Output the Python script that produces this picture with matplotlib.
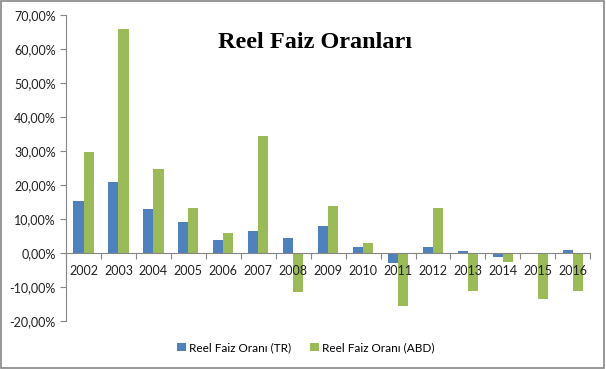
import numpy as np
import matplotlib
matplotlib.use("Agg")
import matplotlib.pyplot as plt
from matplotlib.patches import Rectangle
from matplotlib.ticker import FuncFormatter

# data (percent)
years = ["2002", "2003", "2004", "2005", "2006", "2007", "2008", "2009",
         "2010", "2011", "2012", "2013", "2014", "2015", "2016"]
tr = [15.2, 20.9, 13.0, 9.0, 3.7, 6.6, 4.4, 8.1, 1.9, -2.8, 1.9, 0.5, -1.3, -0.4, 0.8]
abd = [29.8, 65.9, 24.8, 13.4, 6.0, 34.5, -11.6, 13.7, 3.1, -15.7, 13.4, -11.3, -2.5, -13.6, -11.3]

blue = "#4F81BD"
green = "#9BBB59"
grey = "#868686"
font = ["Lato", "DejaVu Sans"]

fig = plt.figure(figsize=(6.06, 3.69), dpi=100)
ax = fig.add_axes([0.109, 0.130, 0.865, 0.829])

x = np.arange(len(years))
w = 0.29
ax.bar(x - w / 2, tr, w, color=blue, label="Reel Faiz Oranı (TR)")
ax.bar(x + w / 2, abd, w, color=green, label="Reel Faiz Oranı (ABD)")

ax.set_xlim(-0.5, len(years) - 0.5)
ax.set_ylim(-20, 70)
ax.set_yticks(np.arange(-20, 71, 10))
ax.yaxis.set_major_formatter(FuncFormatter(lambda v, p: f"{v:.2f}%".replace(".", ",")))

for s in ["top", "right"]:
    ax.spines[s].set_visible(False)
ax.spines["bottom"].set_position(("data", 0))
ax.spines["bottom"].set_color(grey)
ax.spines["left"].set_color(grey)

# category boundary ticks on the zero line
ax.set_xticks(np.arange(-0.5, len(years), 1))
ax.set_xticklabels([])
ax.tick_params(axis="x", length=4, color=grey, direction="out")
for i, yr in enumerate(years):
    ax.text(i, -3.4, yr, ha="center", va="top", fontsize=9, family=font, color="#222222")

ax.tick_params(axis="y", length=4, color=grey, labelsize=9, labelcolor="#222222")
for lab in ax.get_yticklabels():
    lab.set_family(font)

fig.text(0.52, 0.885, "Reel Faiz Oranları", ha="center", va="center",
         fontsize=17.5, fontweight="bold", family="Liberation Serif")

fig.legend(loc="center", bbox_to_anchor=(0.505, 0.057), ncol=2, frameon=False,
           prop={"family": font, "size": 8.5}, handlelength=0.7, handleheight=0.7,
           columnspacing=1.6, handletextpad=0.3)

fig.patches.append(Rectangle((0.002, 0.003), 0.995, 0.994, transform=fig.transFigure,
                             fill=False, edgecolor=grey, linewidth=1.2))

fig.savefig("out.png", dpi=100)
